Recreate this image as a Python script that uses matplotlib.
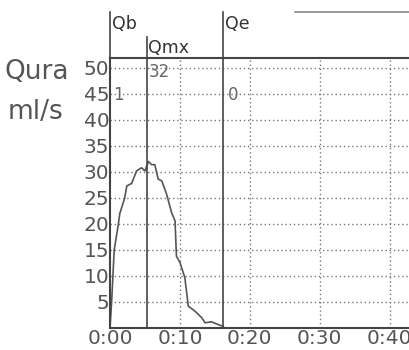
import matplotlib
matplotlib.use("Agg")
import matplotlib.pyplot as plt

# flow curve (seconds, ml/s)
t = [0, 0.24, 0.6, 1.2, 1.4, 2.1, 2.4, 3.1, 3.8, 4.5, 5.0, 5.5, 5.95, 6.4, 6.9,
     7.4, 8.1, 8.8, 9.3, 9.5, 10.0, 10.7, 11.2, 12.1, 13.1, 13.6, 14.5, 15.2, 16.2]
flow = [0, 5.2, 15, 20, 22, 25, 27.3, 27.8, 30.2, 30.8, 30.2, 32, 31.4, 31.4, 28.6,
        28.3, 25.7, 22.2, 20.6, 13.8, 12.6, 9.7, 4.2, 3.3, 2.0, 1.0, 1.2, 0.8, 0.3]

yticks = [5, 10, 15, 20, 25, 30, 35, 40, 45, 50]
xticks = [0, 10, 20, 30, 40]
xlabels = ["0:00", "0:10", "0:20", "0:30", "0:40"]

markers = ["Qb", "Qmx", "Qe"]
marker_t = [0, 5.3, 16.2]
marker_top = [60.8, 56, 60.8]

gray = "#555555"
fig = plt.figure(figsize=(4.1, 3.5), dpi=100)
ax = fig.add_axes([110 / 410, 22 / 350, 300 / 410, 270 / 350])
ax.set_xlim(0, 42.9)
ax.set_ylim(0, 51.9)

for v in yticks:
    ax.axhline(v, color="#777777", lw=1, ls=(0, (1, 2)))
for v in xticks[1:]:
    ax.axvline(v, color="#777777", lw=1, ls=(0, (1, 2)))

ax.plot(t, flow, color=gray, lw=1.2)

for name, tm, top in zip(markers, marker_t, marker_top):
    ax.plot([tm, tm], [0, top], color="#444444", lw=1.2, clip_on=False)

ax.text(0.3, 60.2, "Qb", fontsize=12.5, color="#333333", va="top", ha="left")
ax.text(5.5, 55.6, "Qmx", fontsize=12.5, color="#333333", va="top", ha="left")
ax.text(16.4, 60.2, "Qe", fontsize=12.5, color="#333333", va="top", ha="left")
ax.text(5.5, 49.3, "32", fontsize=12, color="#666666", ha="left", va="center")
ax.text(0.4, 44.7, "1", fontsize=12, color="#666666", ha="left", va="center")
ax.text(16.8, 44.7, "0", fontsize=12, color="#666666", ha="left", va="center")

ax.plot([26.4, 42.9], [60.8, 60.8], color="#888888", lw=1.2, clip_on=False)

for s in ["left", "bottom", "top"]:
    ax.spines[s].set_color("#444444")
    ax.spines[s].set_linewidth(1.5)
ax.spines["right"].set_visible(False)

ax.set_yticks(yticks)
ax.set_yticklabels([str(v) for v in yticks], fontsize=14.5, color=gray)
ax.set_xticks(xticks)
ax.set_xticklabels(xlabels, fontsize=14.5, color=gray)
ax.tick_params(length=0, pad=1)
ax.tick_params(axis="y", pad=0.5)

fig.text(5 / 410, 1 - 72 / 350, "Qura", fontsize=19, color=gray, va="center")
fig.text(8 / 410, 1 - 112 / 350, "ml/s", fontsize=19, color=gray, va="center")

fig.savefig("out.png", dpi=100)
